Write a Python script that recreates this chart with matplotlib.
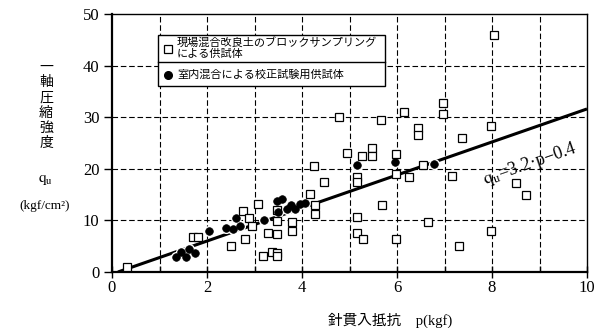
import matplotlib
matplotlib.use("Agg")
import matplotlib.pyplot as plt
from matplotlib.patches import Rectangle
from matplotlib.lines import Line2D
import numpy as np

plt.rcParams['font.family'] = ['Liberation Serif', 'Noto Sans CJK JP', 'DejaVu Sans']
plt.rcParams['mathtext.fontset'] = 'stix'

# Field-mixed block samples (open squares)
field_p = [0.31, 1.71, 1.82, 2.50, 2.76, 2.88, 2.95, 2.79, 3.08, 3.17, 3.36, 3.48, 3.48,
           3.28, 3.47, 3.47, 3.47, 3.78, 3.78, 4.17, 4.27, 4.27, 4.25, 4.46, 4.77,
           4.95, 5.26, 5.47, 5.47, 5.97, 5.16, 5.16, 5.16, 5.16, 5.28, 5.66, 5.68,
           5.97, 5.97, 6.15, 6.25, 6.45, 6.45, 6.54, 6.66, 6.97, 6.97, 7.15, 7.30,
           7.37, 7.98, 7.98, 8.05, 8.50, 8.72]
field_q = [1.0, 6.7, 6.8, 5.0, 11.8, 10.5, 9.0, 6.4, 13.1, 3.1, 3.9, 3.7, 3.1,
           7.5, 7.4, 12.1, 9.8, 9.6, 8.0, 15.1, 13.0, 11.2, 20.5, 17.4, 30.1,
           23.1, 22.5, 24.0, 22.4, 22.9, 18.5, 17.4, 10.6, 7.6, 6.4, 29.5, 12.9,
           18.9, 6.4, 31.1, 18.4, 28.0, 26.6, 20.7, 9.6, 32.8, 30.6, 18.6, 5.0,
           26.0, 28.3, 8.0, 45.9, 17.2, 14.9]

# Laboratory-mixed calibration samples (filled circles)
lab_p = [1.35, 1.45, 1.56, 1.63, 1.75, 2.05, 2.41, 2.54, 2.62, 2.69, 3.19,
         3.47, 3.57, 3.50, 3.68, 3.76, 3.85, 3.96, 4.06, 5.16, 5.96, 6.78]
lab_q = [3.0, 3.9, 3.0, 4.5, 3.6, 7.9, 8.6, 8.3, 10.5, 9.0, 10.1,
         13.7, 14.2, 11.7, 12.3, 13.0, 12.3, 13.2, 13.3, 20.7, 21.3, 20.9]

# Regression qu = 3.2 p - 0.4
slope, intercept = 3.2, -0.4
p_line = np.array([-intercept / slope, 10.0])
q_line = slope * p_line + intercept

x_ticks = [0, 2, 4, 6, 8, 10]
y_ticks = [0, 10, 20, 30, 40, 50]

legend_labels = ['現場混合改良土のブロックサンプリング\nによる供試体',
                 '室内混合による校正試験用供試体']

fig = plt.figure(figsize=(6.06, 3.28), dpi=100)
ax = fig.add_axes([112/606, 1-272/328, 475/606, 258/328])
ax.set_xlim(0, 10)
ax.set_ylim(0, 50)

# grid
for xv in range(1, 10):
    ax.axvline(xv, color='black', lw=0.8, ls=(0, (5, 2.5)), zorder=1)
for yv in [10, 20, 30, 40]:
    ax.axhline(yv, color='black', lw=0.8, ls=(0, (5, 2.5)), zorder=1)

ax.plot(p_line, q_line, color='black', lw=2.2, zorder=2, solid_capstyle='butt')

ax.plot(field_p, field_q, ls='none', marker='s', ms=5.5, mfc='white', mec='black',
        mew=0.9, zorder=4)
ax.plot(lab_p, lab_q, ls='none', marker='o', ms=8, mfc='white', mec='white',
        mew=0, zorder=3)
ax.plot(lab_p, lab_q, ls='none', marker='o', ms=5.5, mfc='black', mec='black',
        mew=0.5, zorder=5)

ax.set_xticks(x_ticks)
ax.set_xticklabels([str(v) for v in x_ticks])
ax.set_xticks(range(1, 10, 2), minor=True)
ax.set_yticks(y_ticks)
ax.set_yticklabels([str(v) for v in y_ticks])
ax.tick_params(axis='y', direction='out', length=6, width=1.0, labelsize=12, pad=3)
ax.tick_params(axis='x', which='major', direction='inout', length=8, width=1.0,
               labelsize=12, pad=2)
ax.tick_params(axis='x', which='minor', direction='in', length=4, width=1.0)
for s in ['left', 'bottom']:
    ax.spines[s].set_linewidth(1.6)
for s in ['top', 'right']:
    ax.spines[s].set_linewidth(1.0)

# equation label
ang = np.degrees(np.arctan(slope * (258/50) / (475/10)))
ax.text(8.8, 20.9, r'$\mathrm{q_u}$=3.2·p−0.4', rotation=ang, fontsize=13,
        ha='center', va='center', rotation_mode='anchor',
        family=['Liberation Serif', 'DejaVu Serif'], zorder=6)

# custom legend box
lx0, lx1 = 0.097, 0.575
ly0, ly1, lymid = 0.722, 0.920, 0.815
ax.add_patch(Rectangle((lx0, ly0), lx1 - lx0, ly1 - ly0, transform=ax.transAxes,
                       facecolor='white', edgecolor='black', lw=1.0, zorder=7))
ax.add_line(Line2D([lx0, lx1], [lymid, lymid], transform=ax.transAxes,
                   color='black', lw=1.0, zorder=8))
ax.plot([0.118], [0.866], transform=ax.transAxes, marker='s', ms=5.5, mfc='white',
        mec='black', mew=0.9, ls='none', zorder=9)
ax.plot([0.118], [0.765], transform=ax.transAxes, marker='o', ms=5.5, mfc='black',
        mec='black', ls='none', zorder=9)
ax.text(0.137, 0.866, legend_labels[0], transform=ax.transAxes, fontsize=8,
        va='center', ha='left', linespacing=1.0, zorder=9,
        family=['Noto Sans CJK JP'])
ax.text(0.137, 0.765, legend_labels[1], transform=ax.transAxes, fontsize=8,
        va='center', ha='left', zorder=9, family=['Noto Sans CJK JP'])

# y label (vertical stacked)
fig.text(46/606, 1-105/328, '一\n軸\n圧\n縮\n強\n度', ha='center', va='center',
         fontsize=10, linespacing=1.1, family=['Noto Sans CJK JP'])
fig.text(45/606, 1-180/328, r'$\mathrm{q_u}$', ha='center', va='center', fontsize=11)
fig.text(45/606, 1-206/328, '(kgf/cm²)', ha='center', va='center', fontsize=9.5)

# x label
fig.text(390/606, 1-320/328, '針貫入抵抗　p(kgf)', ha='center', va='center',
         fontsize=10.5, family=['Liberation Serif', 'Noto Sans CJK JP'])

fig.savefig('out.png', dpi=100)
